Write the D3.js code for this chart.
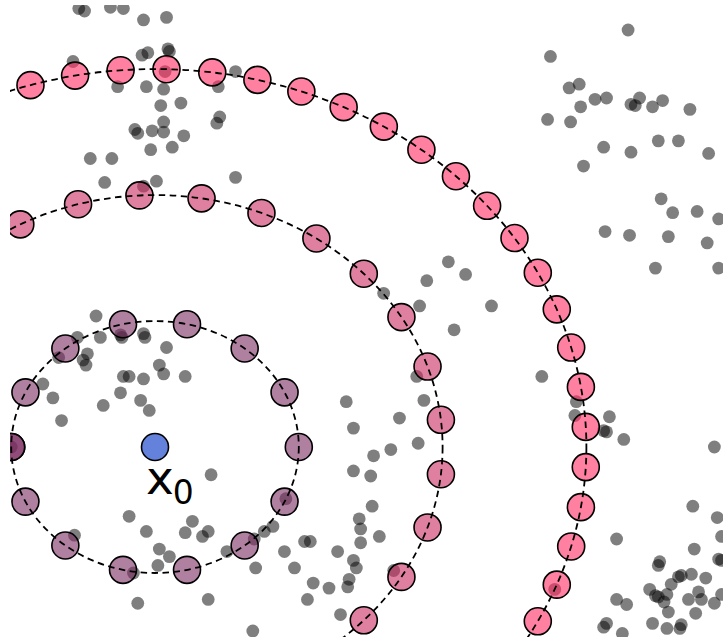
<!DOCTYPE html>
<html>
<head>
<meta charset="utf-8">
<script src="https://cdn.jsdelivr.net/npm/d3@7/dist/d3.min.js"></script>
<style>
  html, body { margin: 0; padding: 0; background: #ffffff; }
  svg { display: block; }
</style>
</head>
<body>
<svg id="chart" width="723" height="637"></svg>
<script>
// Reference point x0 sits at the origin of the feature space.
const anchor = [0, 0];

// Concentric rings around x0: radius, number of samples (endpoints of -pi..pi both kept), fill colour.
const ringRadius = [1, 2, 3];
const ringSamples = [15, 30, 60];
const ringColor = ["#7b2b61", "#cb2b61", "#ff2b61"];

// Background data points (feature-space coordinates).
const sampleX = [
  -0.53, -0.49, -0.31, -0.22, -0.08, 0.08, -0.09, -0.05, 0.09, 0.10,
  -0.57, 0.07, -0.26, -0.06, 0.06, 0.44, 0.56, 0.04, 0.18, 0.06,
  -0.14, -0.12, -0.02, 0.06, 0.20, -0.03, 0.12, 0.45, 0.43, -0.45,
  -0.30, -0.35, 0.01, -0.08, 0.56,
  3.29, 2.75, 2.88, 2.95, 3.06, 3.14, 2.96, 2.73, 2.89, 3.31,
  3.34, 3.37, 3.46, 3.53, 3.72, 3.12, 3.31, 3.50, 3.64, 3.85,
  2.98, 3.52, 3.60, 3.77, 3.92, 3.13, 3.30, 3.57, 3.84, 3.48, 3.92,
  2.34, 2.69, 2.93, 2.92, 3.16, 2.04, 2.16, 1.89, 1.59, 1.84,
  2.08, 1.82, 1.87, 1.33, 1.70, 1.38,
  3.12, 3.14, 3.26, 3.89, 3.74, 3.91, 3.94, 3.21, 3.75, 3.92,
  3.94, 3.51, 3.50, 3.64, 3.66, 3.73, 3.83, 3.59, 3.44, 3.48,
  3.50, 3.56, 3.54, 3.71, 3.78, 3.80, 3.89, 3.94, 3.21, 3.28,
  3.57, 3.76, 3.46, 3.56, 3.66, 3.65, 3.12, 3.14, 3.25, 2.78,
  -0.41, -0.54, -0.38, -0.24, -0.23, -0.08, -0.07, 0.08, -0.47, -0.50,
  -0.48, -0.67, 0.03, 0.06, 0.21, -0.22, -0.18, -0.08, -0.78, -0.24,
  -0.71, -0.10, -0.36, -0.04, -0.65, -1.00,
  0.39, -0.18, -0.06, 0.26, 0.21, 0.33, 0.37, -0.56, 0.03, 0.10,
  0.02, -0.15, 0.50, -0.12, 0.37,
  1.83, 1.64, 1.52, 1.38, 1.50, 1.51, 1.42, 1.43, 1.56, 1.43,
  0.82, 0.76, 0.69, 1.04, 1.08, 1.27, 0.90, 0.70, 0.97, 1.38,
  1.40, 1.35, 1.34, 1.10, 1.21, 1.06, 1.29, 0.68, 0.91, 1.66
];
const sampleY = [
  3.48, 3.46, 3.49, 3.48, 3.39, 3.41, 3.11, 3.13, 3.16, 3.14,
  3.06, 2.98, 2.86, 2.86, 2.84, 2.86, 2.98, 2.71, 2.73, 2.58,
  2.52, 2.49, 2.51, 2.50, 2.47, 2.36, 2.38, 2.62, 2.57, 2.29,
  2.29, 2.10, 2.11, 2.07, 2.14,
  3.31, 3.10, 2.85, 2.88, 2.76, 2.77, 2.70, 2.60, 2.58, 2.72,
  2.71, 2.77, 2.70, 2.75, 2.68, 2.38, 2.34, 2.43, 2.43, 2.33,
  2.23, 1.97, 1.86, 1.87, 1.81, 1.71, 1.68, 1.67, 1.62, 1.42, 1.42,
  1.12, 0.56, 0.36, 0.25, 0.24, 1.47, 1.37, 1.32, 1.22, 1.12,
  0.93, 0.56, 0.37, 0.36, 0.23, 0.15,
  0.13, 0.12, 0.06, 0.00, -0.47, -0.56, -0.71, -0.73, -0.81, -0.89,
  -0.90, -0.91, -0.94, -1.03, -1.02, -1.01, -1.04, -1.09, -1.13, -1.18,
  -1.19, -1.17, -1.23, -1.21, -1.15, -1.21, -1.24, -1.17, -1.21, -1.25,
  -1.31, -1.32, -1.40, -1.44, -1.41, -1.44, -1.43, -1.40, -1.48, -1.13,
  1.04, 0.87, 0.87, 0.89, 0.87, 0.90, 0.87, 0.79, 0.74, 0.69,
  0.65, 0.71, 0.65, 0.58, 0.56, 0.56, 0.56, 0.54, 0.50, 0.43,
  0.39, 0.37, 0.33, 0.29, 0.21, 0.00,
  -0.22, -0.55, -0.67, -0.59, -0.68, -0.71, -0.67, -0.70, -0.81, -0.87,
  -0.94, -1.00, -0.83, -1.24, -1.21,
  0.03, -0.02, -0.07, -0.19, -0.23, -0.47, -0.57, -0.65, -0.71, -0.76,
  -0.63, -0.67, -0.73, -0.75, -0.75, -0.83, -0.83, -0.96, -0.96, -0.90,
  -0.96, -1.05, -1.11, -1.08, -1.12, -1.21, -1.33, -1.46, -0.41, -0.98
];

const anchorLabel = "x";
const anchorSub = "0";

const W = 723, H = 637;
const svg = d3.select("#chart");

const x = d3.scaleLinear().domain([-1.078, 3.950]).range([0, W]);
const y = d3.scaleLinear().domain([-1.508, 3.548]).range([H, 0]);

// Plot area is clipped slightly in from the left and top edges.
svg.append("defs").append("clipPath").attr("id", "plot-clip")
  .append("rect").attr("x", 10).attr("y", 5).attr("width", W - 10).attr("height", H - 5);

const plot = svg.append("g").attr("clip-path", "url(#plot-clip)");

// Background samples
plot.append("g").selectAll("circle")
  .data(d3.range(sampleX.length))
  .join("circle")
  .attr("cx", i => x(sampleX[i]))
  .attr("cy", i => y(sampleY[i]))
  .attr("r", 6.4)
  .attr("fill", "#000000")
  .attr("fill-opacity", 0.5);

// Ring samples, evenly spaced in angle from -pi to pi
const ringPoints = [];
ringRadius.forEach((r, k) => {
  const n = ringSamples[k];
  d3.range(n).forEach(i => {
    const t = -Math.PI + 2 * Math.PI * i / (n - 1);
    ringPoints.push({ px: anchor[0] + r * Math.cos(t), py: anchor[1] + r * Math.sin(t), color: ringColor[k] });
  });
});

plot.append("g").selectAll("circle")
  .data(ringPoints)
  .join("circle")
  .attr("cx", d => x(d.px))
  .attr("cy", d => y(d.py))
  .attr("r", 13.5)
  .attr("fill", d => d.color)
  .attr("fill-opacity", 0.6)
  .attr("stroke", "#000000")
  .attr("stroke-width", 1.6);

// Dashed ring outlines
plot.append("g").selectAll("ellipse")
  .data(ringRadius)
  .join("ellipse")
  .attr("cx", x(anchor[0]))
  .attr("cy", y(anchor[1]))
  .attr("rx", r => x(anchor[0] + r) - x(anchor[0]))
  .attr("ry", r => y(anchor[1]) - y(anchor[1] + r))
  .attr("fill", "none")
  .attr("stroke", "#000000")
  .attr("stroke-width", 1.8)
  .attr("stroke-dasharray", "6.5,4.5");

// Anchor point x0
plot.append("circle")
  .attr("cx", x(anchor[0]))
  .attr("cy", y(anchor[1]))
  .attr("r", 13.5)
  .attr("fill", "#6482dc")
  .attr("stroke", "#000000")
  .attr("stroke-width", 1.6);

const label = svg.append("text")
  .attr("x", x(anchor[0]) - 9)
  .attr("y", y(anchor[1]) + 47)
  .attr("font-family", "DejaVu Sans, sans-serif")
  .attr("font-size", 47)
  .attr("fill", "#000000");
label.append("tspan").text(anchorLabel);
label.append("tspan").attr("font-size", 33).attr("dx", -1).attr("dy", 10).text(anchorSub);
</script>
</body>
</html>
